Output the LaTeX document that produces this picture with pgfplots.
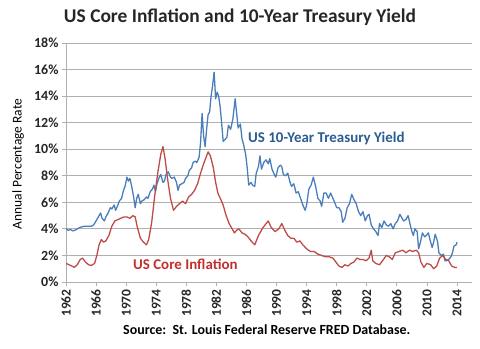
\documentclass[border=0pt]{standalone}
\usepackage{fontspec}
\setmainfont{Carlito}
\usepackage{pgfplots}
\pgfplotsset{compat=1.18}
\definecolor{blueline}{HTML}{4A7EBB}
\definecolor{redline}{HTML}{BE4B48}
\definecolor{bluetext}{HTML}{2A5B93}
\definecolor{redtext}{HTML}{C0302E}
\definecolor{gridgray}{HTML}{B0B0B0}
\definecolor{tickc}{HTML}{262626}
\begin{document}
\begin{tikzpicture}[x=1bp,y=1bp]
\path[use as bounding box] (0,0) rectangle (480,348);
\begin{axis}[
 at={(66bp,66bp)}, anchor=south west,
 scale only axis, width=406bp, height=239bp,
 xmin=1962, xmax=2016, ymin=0, ymax=18,
 axis x line=bottom, axis y line=left,
 axis line style={-, draw=gridgray, line width=0.8pt},
 xtick={1962,1966,...,2014},
 ytick={0,2,...,18},
 ymajorgrids, grid style={draw=gridgray, line width=0.8pt},
 tick style={draw=gridgray, line width=0.8pt},
 major tick length=4bp,
 tick align=outside,
 /pgf/number format/assume math mode=true,
 /pgf/number format/1000 sep={},
 xticklabel style={rotate=90, anchor=east, font=\bfseries\fontsize{13.5}{15}\selectfont, text=tickc},
 yticklabel style={font=\bfseries\fontsize{14}{16}\selectfont, text=tickc},
 yticklabel={\pgfmathprintnumber{\tick}\%},
]
\addplot[blueline, line width=1.3pt, line join=round] coordinates {
(1962.0,4.0) (1962.3,3.9) (1962.6,3.95) (1962.9,3.85) (1963.2,3.9) (1963.5,4.0) (1963.8,4.1)
(1964.1,4.15) (1964.4,4.2) (1964.7,4.2) (1965.0,4.2) (1965.3,4.2) (1965.6,4.25) (1965.9,4.5)
(1966.1,4.7) (1966.3,4.9) (1966.6,5.2) (1966.8,4.8) (1967.1,4.6) (1967.3,4.9) (1967.6,5.2)
(1967.9,5.6) (1968.1,5.5) (1968.4,5.8) (1968.6,5.4) (1968.9,5.8) (1969.1,6.1) (1969.4,6.3)
(1969.6,6.8) (1969.9,7.3) (1970.1,7.9) (1970.3,7.6) (1970.5,7.8) (1970.7,7.3) (1971.0,6.4)
(1971.2,5.6) (1971.4,6.3) (1971.6,6.6) (1971.9,5.9) (1972.1,6.1) (1972.4,6.2) (1972.7,6.4)
(1972.9,6.3) (1973.2,6.8) (1973.5,7.0) (1973.7,7.3) (1973.9,6.8) (1974.1,7.4) (1974.4,7.9)
(1974.6,8.1) (1974.9,7.5) (1975.1,7.6) (1975.3,8.1) (1975.6,8.3) (1975.9,7.9) (1976.1,7.8)
(1976.4,7.9) (1976.7,7.5) (1976.9,6.9) (1977.1,7.3) (1977.4,7.4) (1977.7,7.5) (1977.9,7.8)
(1978.2,8.0) (1978.4,8.4) (1978.7,8.6) (1978.9,9.0) (1979.2,9.1) (1979.4,9.0) (1979.7,9.4)
(1979.9,10.5) (1980.1,12.7) (1980.3,11.0) (1980.5,10.2) (1980.7,11.5) (1980.9,12.6) (1981.1,12.8)
(1981.3,14.0) (1981.5,14.8) (1981.7,15.8) (1981.9,13.8) (1982.1,14.3) (1982.3,14.0) (1982.5,13.2)
(1982.7,12.0) (1982.9,10.6) (1983.1,10.7) (1983.4,10.9) (1983.6,11.8) (1983.9,11.5) (1984.2,12.3)
(1984.5,13.8) (1984.7,12.7) (1984.9,11.6) (1985.2,11.9) (1985.4,10.8) (1985.6,10.4) (1985.9,9.6)
(1986.1,8.6) (1986.3,7.3) (1986.6,7.5) (1986.8,7.3) (1987.1,7.2) (1987.3,8.2) (1987.6,8.7)
(1987.8,9.5) (1988.0,8.5) (1988.3,9.0) (1988.6,9.2) (1988.9,8.9) (1989.1,9.3) (1989.4,8.5)
(1989.7,8.1) (1989.9,7.9) (1990.2,8.6) (1990.5,8.8) (1990.7,8.7) (1990.9,8.1) (1991.2,8.0)
(1991.5,8.2) (1991.8,7.5) (1992.0,7.2) (1992.3,7.4) (1992.6,6.7) (1992.9,6.8) (1993.2,6.3)
(1993.5,5.8) (1993.8,5.4) (1994.0,5.8) (1994.3,7.0) (1994.6,7.3) (1994.9,7.9) (1995.2,7.2)
(1995.5,6.3) (1995.8,6.1) (1996.0,5.7) (1996.3,6.7) (1996.6,6.7) (1996.9,6.3) (1997.2,6.7)
(1997.5,6.3) (1997.8,5.9) (1998.0,5.6) (1998.3,5.6) (1998.6,5.3) (1998.8,4.5) (1999.1,4.8)
(1999.4,5.6) (1999.7,5.9) (2000.0,6.6) (2000.3,6.2) (2000.6,5.9) (2000.9,5.3) (2001.2,5.0)
(2001.5,5.3) (2001.8,4.6) (2002.1,5.0) (2002.3,5.1) (2002.6,4.3) (2002.9,4.0) (2003.2,3.8)
(2003.5,3.5) (2003.7,4.4) (2004.0,4.1) (2004.3,4.6) (2004.6,4.3) (2004.9,4.2) (2005.2,4.4)
(2005.5,4.0) (2005.8,4.4) (2006.1,4.6) (2006.4,5.1) (2006.7,4.8) (2006.9,4.6) (2007.2,4.7)
(2007.5,5.0) (2007.7,4.5) (2008.0,3.8) (2008.2,3.5) (2008.4,4.0) (2008.7,3.8) (2008.9,2.5)
(2009.1,2.9) (2009.4,3.7) (2009.7,3.4) (2009.9,3.5) (2010.2,3.7) (2010.4,3.2) (2010.7,2.6)
(2010.9,3.0) (2011.1,3.6) (2011.4,3.1) (2011.6,2.2) (2011.9,2.0) (2012.2,2.1) (2012.4,1.6)
(2012.6,1.6) (2012.9,1.7) (2013.2,1.9) (2013.4,2.2) (2013.6,2.7) (2013.9,2.8) (2014.0,3.0)
};
\addplot[redline, line width=1.3pt, line join=round] coordinates {
(1962.0,1.4) (1962.4,1.3) (1962.8,1.2) (1963.1,1.1) (1963.5,1.3) (1963.9,1.7) (1964.2,1.8)
(1964.6,1.5) (1965.0,1.3) (1965.4,1.25) (1965.8,1.4) (1966.1,2.0) (1966.4,2.8) (1966.7,3.2)
(1967.0,3.0) (1967.3,3.1) (1967.7,3.5) (1968.1,4.2) (1968.5,4.6) (1968.9,4.7) (1969.3,4.8)
(1969.7,4.9) (1970.1,4.9) (1970.5,4.8) (1970.9,5.0) (1971.2,4.9) (1971.5,4.1) (1971.9,3.3)
(1972.3,3.0) (1972.7,2.8) (1973.0,3.2) (1973.4,4.5) (1973.8,6.5) (1974.2,8.2) (1974.6,9.6)
(1974.9,10.2) (1975.2,9.2) (1975.5,7.8) (1975.9,6.3) (1976.3,5.4) (1976.7,5.7) (1977.1,5.9)
(1977.5,6.1) (1977.9,5.9) (1978.3,6.4) (1978.7,6.6) (1979.1,6.9) (1979.5,7.4) (1979.9,8.2)
(1980.3,8.9) (1980.7,9.5) (1980.9,9.8) (1981.2,9.5) (1981.6,8.6) (1981.9,7.5) (1982.2,6.7)
(1982.6,6.2) (1982.9,5.8) (1983.3,5.0) (1983.7,4.4) (1984.1,4.0) (1984.4,3.7) (1984.7,3.9)
(1985.0,4.0) (1985.4,3.7) (1985.8,3.6) (1986.2,3.4) (1986.6,3.1) (1987.1,2.8) (1987.6,3.5)
(1988.2,4.1) (1988.9,4.6) (1989.3,4.1) (1989.8,3.8) (1990.3,4.0) (1990.7,4.4) (1991.1,3.9)
(1991.5,3.5) (1991.9,3.3) (1992.3,3.3) (1992.7,3.0) (1993.1,3.1) (1993.5,2.8) (1994.0,2.5)
(1994.5,2.3) (1995.0,2.3) (1995.5,2.1) (1996.0,2.0) (1996.5,1.9) (1997.0,1.9) (1997.5,1.8)
(1997.9,1.5) (1998.3,1.2) (1998.7,1.1) (1999.1,1.3) (1999.5,1.2) (1999.9,1.4) (2000.3,1.5)
(2000.7,1.8) (2001.1,1.7) (2001.5,1.7) (2001.9,1.6) (2002.3,1.8) (2002.6,2.4) (2002.8,1.6)
(2003.2,1.4) (2003.7,1.3) (2004.1,1.6) (2004.6,2.0) (2005.0,1.9) (2005.4,1.7) (2005.8,2.2)
(2006.3,2.3) (2006.8,2.4) (2007.2,2.2) (2007.7,2.4) (2008.1,2.3) (2008.6,2.4) (2008.9,2.2)
(2009.2,1.5) (2009.6,1.1) (2010.0,1.4) (2010.5,1.3) (2010.9,1.0) (2011.3,1.2) (2011.7,1.8)
(2012.1,2.0) (2012.5,1.7) (2012.9,1.6) (2013.3,1.2) (2013.7,1.1) (2014.0,1.1)
};
\node[anchor=west, text=bluetext, font=\bfseries\fontsize{15}{17}\selectfont, inner sep=0pt] at (axis cs:1986.2,10.8) {US 10-Year Treasury Yield};
\node[anchor=west, text=redtext, font=\bfseries\fontsize{15}{17}\selectfont, inner sep=0pt] at (axis cs:1970.9,1.35) {US Core Inflation};
\end{axis}
\node[font=\bfseries\fontsize{19.5}{22}\selectfont, text=tickc] at (240,331) {US Core Inflation and 10-Year Treasury Yield};
\node[anchor=west, font=\bfseries\fontsize{14}{16}\selectfont, text=black, inner sep=0pt] at (123,18) {Source:\ \ St. Louis Federal Reserve FRED Database.};
\node[rotate=90, font=\fontsize{13.5}{15}\selectfont, text=black] at (18,184) {Annual Percentage Rate};
\end{tikzpicture}
\end{document}
